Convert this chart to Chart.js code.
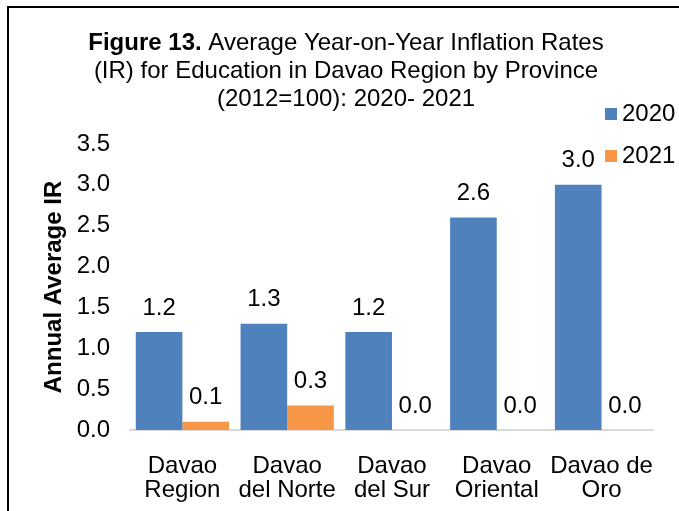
<!DOCTYPE html>
<html lang="en">

<head>
    <meta charset="UTF-8">
    <title>Figure 13</title>
    <script src="https://cdn.jsdelivr.net/npm/chart.js"></script>
    <style>
        body { margin: 0; background: #fff; }
        .quadro { position: relative; width: 679px; height: 511px; overflow: hidden; }
        .borda { position: absolute; left: 7px; top: 6px; width: 700px; height: 600px;
                 border-left: 2px solid #000; border-top: 2px solid #000; }
        canvas { position: absolute; left: 0; top: 0; }
    </style>
</head>

<body>
    <div class="quadro">
        <div class="borda"></div>
        <canvas id="grafico" width="679" height="511"></canvas>
    </div>

<script>
    // dados
    var provincias = [['Davao', 'Region'], ['Davao', 'del Norte'], ['Davao', 'del Sur'], ['Davao', 'Oriental'], ['Davao de', 'Oro']];
    var ir2020 = [1.2, 1.3, 1.2, 2.6, 3.0];
    var ir2021 = [0.1, 0.3, 0.0, 0.0, 0.0];
    var anos = ['2020', '2021'];
    var cores = ['#4F81BD', '#F79646'];

    var fonte = 'Arial, "Liberation Sans", sans-serif';

    // titulo com "Figure 13." em negrito
    const tituloPlugin = {
        id: 'titulo',
        afterDraw(chart) {
            const c = chart.ctx;
            const cx = 346;
            c.save();
            c.fillStyle = '#000';
            c.textBaseline = 'alphabetic';
            c.font = 'bold 24px ' + fonte;
            const p1 = 'Figure 13.';
            const w1 = c.measureText(p1).width;
            c.font = '24px ' + fonte;
            const p2 = ' Average Year-on-Year Inflation Rates';
            const w2 = c.measureText(p2).width;
            let x = cx - (w1 + w2) / 2;
            c.textAlign = 'left';
            c.font = 'bold 24px ' + fonte;
            c.fillText(p1, x, 50);
            c.font = '24px ' + fonte;
            c.fillText(p2, x + w1, 50);
            c.textAlign = 'center';
            c.fillText('(IR) for Education in Davao Region by Province', cx, 78);
            c.fillText('(2012=100): 2020- 2021', cx, 106);
            c.restore();
        }
    };

    // rotulos de valor acima das barras
    const rotulosPlugin = {
        id: 'rotulos',
        afterDatasetsDraw(chart) {
            const c = chart.ctx;
            c.save();
            c.font = '24px ' + fonte;
            c.fillStyle = '#000';
            c.textAlign = 'center';
            c.textBaseline = 'middle';
            chart.data.datasets.forEach((ds, i) => {
                chart.getDatasetMeta(i).data.forEach((bar, j) => {
                    c.fillText(ds.data[j].toFixed(1), bar.x, bar.y - 24);
                });
            });
            c.restore();
        }
    };

    // legenda manual no canto direito
    const legendaPlugin = {
        id: 'legenda',
        afterDraw(chart) {
            const c = chart.ctx;
            c.save();
            c.font = '24px ' + fonte;
            c.textBaseline = 'middle';
            c.textAlign = 'left';
            chart.data.datasets.forEach((ds, i) => {
                const y = 114 + i * 42;
                c.fillStyle = ds.backgroundColor;
                c.fillRect(605, y - 6, 12, 12);
                c.fillStyle = '#000';
                c.fillText(ds.label, 622, y);
            });
            c.restore();
        }
    };

    new Chart(document.getElementById('grafico'), {
        type: 'bar',
        data: {
            labels: provincias,
            datasets: [
                { label: anos[0], data: ir2020, backgroundColor: cores[0] },
                { label: anos[1], data: ir2021, backgroundColor: cores[1] }
            ]
        },
        options: {
            responsive: false,
            animation: false,
            devicePixelRatio: 1,
            layout: { padding: { top: 144, left: 0, right: 21, bottom: 9 } },
            datasets: { bar: { categoryPercentage: 0.89, barPercentage: 1.0 } },
            plugins: {
                legend: { display: false },
                title: { display: false },
                tooltip: { enabled: false }
            },
            scales: {
                x: {
                    afterFit(scale) { scale.height = 72; },
                    grid: { display: false, drawTicks: false },
                    border: { display: true, color: '#D9D9D9', width: 2 },
                    ticks: {
                        color: '#000',
                        padding: 24,
                        autoSkip: false,
                        maxRotation: 0,
                        minRotation: 0,
                        font: { family: fonte, size: 24, lineHeight: 1.0 }
                    }
                },
                y: {
                    min: 0,
                    max: 3.5,
                    afterFit(scale) { scale.width = 130; },
                    grid: { display: false, drawTicks: false },
                    border: { display: false },
                    ticks: {
                        stepSize: 0.5,
                        padding: 20,
                        color: '#000',
                        font: { family: fonte, size: 24 },
                        callback: v => v.toFixed(1)
                    },
                    title: {
                        display: true,
                        text: 'Annual Average IR',
                        color: '#000',
                        padding: { top: 40, bottom: 0 },
                        font: { family: fonte, size: 24, weight: 'bold' }
                    }
                }
            }
        },
        plugins: [tituloPlugin, rotulosPlugin, legendaPlugin]
    });
</script>
</body>

</html>
